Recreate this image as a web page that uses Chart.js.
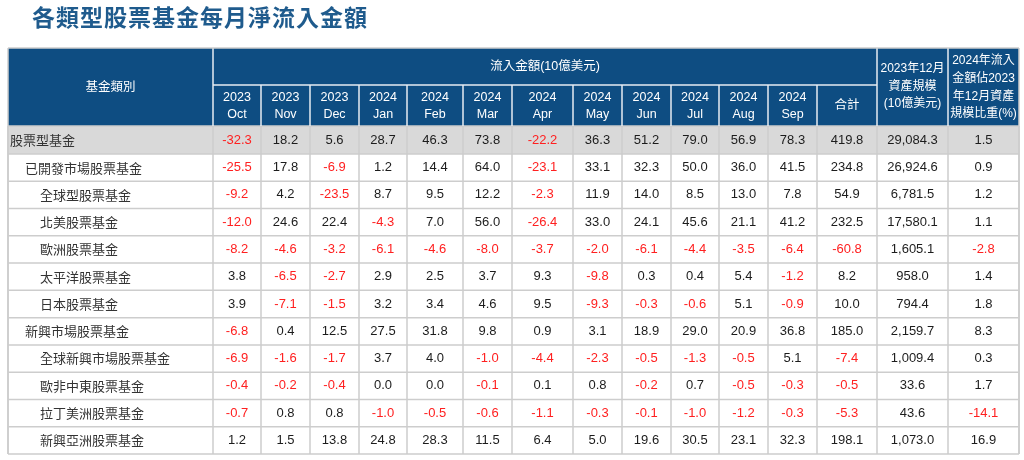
<!DOCTYPE html>
<html>
<head>
<meta charset="utf-8">
<script src="https://cdn.jsdelivr.net/npm/chart.js"></script>
<style>
  html, body { margin: 0; padding: 0; background: #fff; }
  #wrap { width: 1024px; height: 460px; }
</style>
</head>
<body>
<div id="wrap"><canvas id="tabla"></canvas></div>
<script>
// datos
const titulo = '各類型股票基金每月淨流入金額';
const anios = ['2023', '2023', '2023', '2024', '2024', '2024', '2024', '2024', '2024', '2024', '2024', '2024'];
const meses = ['Oct', 'Nov', 'Dec', 'Jan', 'Feb', 'Mar', 'Apr', 'May', 'Jun', 'Jul', 'Aug', 'Sep'];
const fondos = ['股票型基金', '已開發市場股票基金', '全球型股票基金', '北美股票基金', '歐洲股票基金', '太平洋股票基金',
  '日本股票基金', '新興市場股票基金', '全球新興市場股票基金', '歐非中東股票基金', '拉丁美洲股票基金', '新興亞洲股票基金'];
const nivel = [0, 1, 2, 2, 2, 2, 2, 1, 2, 2, 2, 2];   // sangria del nombre

// flujos mensuales (10億美元), Oct 2023 .. Sep 2024
const equity    = [-32.3, 18.2, 5.6, 28.7, 46.3, 73.8, -22.2, 36.3, 51.2, 79.0, 56.9, 78.3];
const developed = [-25.5, 17.8, -6.9, 1.2, 14.4, 64.0, -23.1, 33.1, 32.3, 50.0, 36.0, 41.5];
const globalEq  = [-9.2, 4.2, -23.5, 8.7, 9.5, 12.2, -2.3, 11.9, 14.0, 8.5, 13.0, 7.8];
const northAm   = [-12.0, 24.6, 22.4, -4.3, 7.0, 56.0, -26.4, 33.0, 24.1, 45.6, 21.1, 41.2];
const europe    = [-8.2, -4.6, -3.2, -6.1, -4.6, -8.0, -3.7, -2.0, -6.1, -4.4, -3.5, -6.4];
const pacific   = [3.8, -6.5, -2.7, 2.9, 2.5, 3.7, 9.3, -9.8, 0.3, 0.4, 5.4, -1.2];
const japan     = [3.9, -7.1, -1.5, 3.2, 3.4, 4.6, 9.5, -9.3, -0.3, -0.6, 5.1, -0.9];
const emerging  = [-6.8, 0.4, 12.5, 27.5, 31.8, 9.8, 0.9, 3.1, 18.9, 29.0, 20.9, 36.8];
const globalEm  = [-6.9, -1.6, -1.7, 3.7, 4.0, -1.0, -4.4, -2.3, -0.5, -1.3, -0.5, 5.1];
const emea      = [-0.4, -0.2, -0.4, 0.0, 0.0, -0.1, 0.1, 0.8, -0.2, 0.7, -0.5, -0.3];
const latam     = [-0.7, 0.8, 0.8, -1.0, -0.5, -0.6, -1.1, -0.3, -0.1, -1.0, -1.2, -0.3];
const emAsia    = [1.2, 1.5, 13.8, 24.8, 28.3, 11.5, 6.4, 5.0, 19.6, 30.5, 23.1, 32.3];
const flujos = [equity, developed, globalEq, northAm, europe, pacific, japan, emerging, globalEm, emea, latam, emAsia];

const totales = [419.8, 234.8, 54.9, 232.5, -60.8, 8.2, 10.0, 185.0, -7.4, -0.5, -5.3, 198.1];
const activos = [29084.3, 26924.6, 6781.5, 17580.1, 1605.1, 958.0, 794.4, 2159.7, 1009.4, 33.6, 43.6, 1073.0];
const ratio   = [1.5, 0.9, 1.2, 1.1, -2.8, 1.4, 1.8, 8.3, 0.3, 1.7, -14.1, 16.9];

// encabezados
const hdrCategoria = '基金類別';
const hdrFlujo = '流入金額(10億美元)';
const hdrTotal = '合計';
const hdrActivos = ['2023年12月', '資產規模', '(10億美元)'];
const hdrRatio = ['2024年流入', '金額佔2023', '年12月資產', '規模比重(%)'];

// layout de la tabla en unidades de escala
const anchos = [205, 48, 49, 49, 48, 56, 49, 61, 49, 49, 48, 49, 49, 60, 71, 71];
const bordesX = [0];
anchos.forEach(w => bordesX.push(bordesX[bordesX.length - 1] + w));
const altoHdr1 = 37, altoHdr = 78, altoFila0 = 28, altoFila = 300 / 11;
const bordesY = [altoHdr, altoHdr + altoFila0];
for (let i = 1; i < fondos.length; i++) bordesY.push(altoHdr + altoFila0 + altoFila * i);

const AZUL = '#0e4d82', ROJO = '#ff2020', NEGRO = '#1c1c1c', GRIS_LINEA = '#cdcdcd';
const fNum = '13px "Liberation Sans", Arial, sans-serif';
const fCjk = '13px "Noto Sans CJK TC", "Liberation Sans", sans-serif';
const fHdr = '12.5px "Liberation Sans", "Noto Sans CJK TC", sans-serif';
const fHdrChico = '12px "Liberation Sans", "Noto Sans CJK TC", sans-serif';

const fmt = v => v.toFixed(1);
const fmtMiles = v => v.toLocaleString('en-US', { minimumFractionDigits: 1, maximumFractionDigits: 1 });

const tablaPlugin = {
  id: 'tabla',
  afterDraw(chart) {
    const ctx = chart.ctx;
    const px = v => chart.scales.x.getPixelForValue(v);
    const py = v => chart.scales.y.getPixelForValue(v);
    const xL = px(0), xR = px(bordesX[bordesX.length - 1]);
    const yT = py(0), yB = py(bordesY[bordesY.length - 1]);
    ctx.save();

    // titulo
    ctx.fillStyle = '#1f5b8d';
    ctx.font = 'bold 23px "Noto Sans CJK TC", sans-serif';
    ctx.textBaseline = 'middle';
    ctx.textAlign = 'left';
    if ('letterSpacing' in ctx) ctx.letterSpacing = '1px';
    ctx.fillText(titulo, 32, 17);
    if ('letterSpacing' in ctx) ctx.letterSpacing = '0px';

    // fondo encabezado
    ctx.fillStyle = AZUL;
    ctx.fillRect(xL, yT, xR - xL, py(altoHdr) - yT);
    // fila total en gris
    ctx.fillStyle = '#d9d9d9';
    ctx.fillRect(xL, py(bordesY[0]), xR - xL, py(bordesY[1]) - py(bordesY[0]));

    // rejilla del cuerpo
    ctx.strokeStyle = GRIS_LINEA;
    ctx.lineWidth = 1.5;
    ctx.beginPath();
    bordesY.forEach(b => { ctx.moveTo(xL, py(b)); ctx.lineTo(xR, py(b)); });
    bordesX.forEach(b => { ctx.moveTo(px(b), py(altoHdr)); ctx.lineTo(px(b), yB); });
    ctx.stroke();

    // lineas blancas del encabezado
    ctx.strokeStyle = '#e6ecf2';
    ctx.beginPath();
    [1, 14, 15].forEach(i => { ctx.moveTo(px(bordesX[i]), yT); ctx.lineTo(px(bordesX[i]), py(altoHdr)); });
    for (let i = 2; i <= 13; i++) { ctx.moveTo(px(bordesX[i]), py(altoHdr1)); ctx.lineTo(px(bordesX[i]), py(altoHdr)); }
    ctx.moveTo(px(bordesX[1]), py(altoHdr1)); ctx.lineTo(px(bordesX[14]), py(altoHdr1));
    ctx.stroke();

    // borde exterior
    ctx.strokeStyle = GRIS_LINEA;
    ctx.beginPath();
    ctx.moveTo(xL, yT); ctx.lineTo(xR, yT);
    ctx.moveTo(xL, yT); ctx.lineTo(xL, yB);
    ctx.moveTo(xR, yT); ctx.lineTo(xR, yB);
    ctx.stroke();

    const centroX = i => (px(bordesX[i]) + px(bordesX[i + 1])) / 2;
    const lineas = (textos, cx, cy, paso) => {
      textos.forEach((t, k) => ctx.fillText(t, cx, cy + (k - (textos.length - 1) / 2) * paso));
    };

    // textos encabezado
    ctx.fillStyle = '#ffffff';
    ctx.textAlign = 'center';
    ctx.font = fHdr;
    ctx.fillText(hdrCategoria, centroX(0), py(altoHdr / 2) + 1);
    ctx.fillText(hdrFlujo, (px(bordesX[1]) + px(bordesX[14])) / 2, py(altoHdr1 / 2));
    ctx.fillText(hdrTotal, centroX(13), py((altoHdr1 + altoHdr) / 2));
    meses.forEach((m, i) => lineas([anios[i], m], centroX(i + 1), py((altoHdr1 + altoHdr) / 2) + 1, 17));
    ctx.font = fHdrChico;
    lineas(hdrActivos, centroX(14), py(altoHdr / 2) - 0.5, 17.5);
    lineas(hdrRatio, centroX(15), py(altoHdr / 2) + 0.5, 17.7);

    // cuerpo
    fondos.forEach((nombre, r) => {
      const cy = (py(bordesY[r]) + py(bordesY[r + 1])) / 2;
      ctx.textAlign = 'left';
      ctx.font = fCjk;
      ctx.fillStyle = '#333333';
      ctx.fillText(nombre, px(0) + 2 + nivel[r] * 15, cy);

      ctx.textAlign = 'center';
      ctx.font = fNum;
      const celdas = flujos[r].concat([totales[r]]);
      celdas.forEach((v, c) => {
        ctx.fillStyle = v < 0 ? ROJO : NEGRO;
        ctx.fillText(fmt(v), centroX(c + 1), cy);
      });
      ctx.fillStyle = NEGRO;
      ctx.fillText(fmtMiles(activos[r]), centroX(14), cy);
      ctx.fillStyle = ratio[r] < 0 ? ROJO : NEGRO;
      ctx.fillText(fmt(ratio[r]), centroX(15), cy);
    });
    ctx.restore();
  }
};

new Chart(document.getElementById('tabla'), {
  type: 'scatter',
  data: { datasets: [] },
  options: {
    responsive: true,
    maintainAspectRatio: false,
    animation: false,
    layout: { padding: { left: 8, right: 5, top: 48, bottom: 6 } },
    plugins: { legend: { display: false }, tooltip: { enabled: false }, title: { display: false } },
    scales: {
      x: { type: 'linear', display: false, min: 0, max: bordesX[bordesX.length - 1] },
      y: { type: 'linear', display: false, reverse: true, min: 0, max: bordesY[bordesY.length - 1] }
    }
  },
  plugins: [tablaPlugin]
});
</script>
</body>
</html>
